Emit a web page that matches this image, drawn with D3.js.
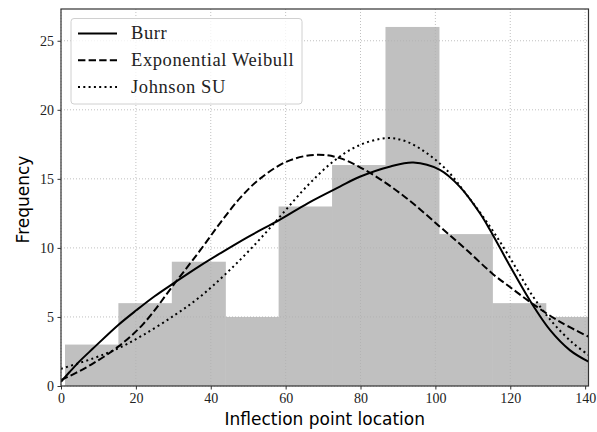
<!DOCTYPE html>
<html><head><meta charset="utf-8">
<script src="https://cdn.jsdelivr.net/npm/d3@7"></script>
<style>body{margin:0;background:#fff}svg{display:block}</style>
</head><body><svg id="c" width="597" height="432"></svg>
<script>
// Histogram
const binEdges = [1.07, 15.33, 29.6, 43.87, 58.13, 72.4, 86.67, 100.93, 115.2, 129.47, 143.73];
const binCounts = [3, 6, 9, 5, 13, 16, 26, 11, 6, 5];
// Fitted curves
const burrX = [0, 1, 2.4, 5, 8.6, 15.3, 20.2, 25, 30.4, 37.1, 42.5, 50, 58.5, 66, 74.5, 79.8, 88, 94.1, 101.2, 106.5, 111.9, 114.6, 120, 125.7, 130.6, 135.9, 140.9];
const burrY = [0.3, 0.62, 1.04, 1.8, 2.73, 4.42, 5.5, 6.5, 7.5, 8.7, 9.6, 10.8, 12.05, 13.25, 14.44, 15.15, 15.9, 16.18, 15.65, 14.44, 12.51, 11.3, 8.65, 5.99, 4.06, 2.6, 1.76];
const ewX = [0, 4, 8.6, 15.3, 22, 30.4, 37.1, 42.5, 47.8, 53.1, 60.3, 67.8, 74.5, 83.4, 92.3, 101.2, 108.3, 115.4, 120, 125.7, 133.2, 140.9];
const ewY = [0.43, 0.95, 1.64, 2.85, 4.5, 7.44, 9.8, 11.8, 13.6, 15.0, 16.25, 16.74, 16.5, 15.29, 13.6, 11.54, 9.86, 8.1, 7.15, 6.0, 4.66, 3.57];
const jsuX = [0, 8.6, 15.3, 22, 30.4, 37.1, 44.2, 51.3, 58.5, 65.6, 72.7, 79.4, 87, 92.3, 97.7, 103, 108.5, 114.6, 120, 126.1, 131.5, 136.8, 140.9];
const jsuY = [1.25, 2.0, 2.73, 3.7, 5.14, 6.45, 8.17, 10.1, 12.27, 14.44, 16.25, 17.4, 17.95, 17.7, 16.86, 15.65, 13.8, 11.54, 9.25, 6.47, 4.54, 3.09, 2.25];
const xTicks = [0, 20, 40, 60, 80, 100, 120, 140];
const yTicks = [0, 5, 10, 15, 20, 25];
const seriesNames = ["Burr", "Exponential Weibull", "Johnson SU"];

const L = 61, R = 588.5, T = 9, B = 386;
const svg = d3.select("#c");
const x = d3.scaleLinear().domain([0, 140.9]).range([L, R]);
const y = d3.scaleLinear().domain([0, 27.3]).range([B, T]);

svg.append("defs").append("clipPath").attr("id", "clip")
  .append("rect").attr("x", L).attr("y", T).attr("width", R - L).attr("height", B - T);

// bars
const bars = binCounts.map((c, i) => ({x0: binEdges[i], x1: binEdges[i + 1], c}));
svg.append("g").attr("clip-path", "url(#clip)").selectAll("rect").data(bars).enter().append("rect")
  .attr("x", d => x(d.x0)).attr("width", d => x(d.x1) - x(d.x0) + 0.6)
  .attr("y", d => y(d.c)).attr("height", d => y(0) - y(d.c))
  .attr("fill", "#c0c0c0");

// grid (above bars, below lines)
const grid = svg.append("g");
grid.selectAll(".gx").data(xTicks).enter().append("line")
  .attr("x1", d => x(d)).attr("x2", d => x(d)).attr("y1", T).attr("y2", B)
  .attr("stroke", "#b0b0b0").attr("stroke-width", 0.8).attr("stroke-dasharray", "1,2");
grid.selectAll(".gy").data(yTicks).enter().append("line")
  .attr("y1", d => y(d)).attr("y2", d => y(d)).attr("x1", L).attr("x2", R)
  .attr("stroke", "#b0b0b0").attr("stroke-width", 0.8).attr("stroke-dasharray", "1,2");

// curves
const line = d3.line().x(d => x(d[0])).y(d => y(d[1])).curve(d3.curveCatmullRom.alpha(0.5));
const series = [
  {name: seriesNames[0], xs: burrX, ys: burrY, dash: null},
  {name: seriesNames[1], xs: ewX, ys: ewY, dash: "7.4,3.2"},
  {name: seriesNames[2], xs: jsuX, ys: jsuY, dash: "2,3.3"}
];
const cg = svg.append("g").attr("clip-path", "url(#clip)");
series.forEach(s => {
  cg.append("path").datum(s.xs.map((v, i) => [v, s.ys[i]]))
    .attr("d", line).attr("fill", "none").attr("stroke", "#000").attr("stroke-width", 2)
    .attr("stroke-dasharray", s.dash);
});

// axes
const xa = svg.append("g").attr("transform", `translate(0,${B})`)
  .call(d3.axisBottom(x).tickValues(xTicks).tickSize(3.5).tickPadding(3.5).tickFormat(d3.format("d")));
const ya = svg.append("g").attr("transform", `translate(${L},0)`)
  .call(d3.axisLeft(y).tickValues(yTicks).tickSize(3.5).tickPadding(3.5).tickFormat(d3.format("d")));
[xa, ya].forEach(a => {
  a.select(".domain").remove();
  a.selectAll("line").attr("stroke", "#333").attr("stroke-width", 1);
  a.selectAll("text").attr("font-family", "'Liberation Serif', 'DejaVu Serif', serif")
    .attr("font-size", 14).attr("fill", "#222");
});
// frame
svg.append("rect").attr("x", L).attr("y", T).attr("width", R - L).attr("height", B - T)
  .attr("fill", "none").attr("stroke", "#333").attr("stroke-width", 1.2);

// axis labels
svg.append("text").attr("x", (L + R) / 2).attr("y", 425).attr("text-anchor", "middle")
  .attr("font-family", "'DejaVu Sans', sans-serif").attr("font-size", 17).attr("fill", "#000")
  .text("Inflection point location");
svg.append("text").attr("transform", `translate(29,${(T + B) / 2 + 2}) rotate(-90)`).attr("text-anchor", "middle")
  .attr("font-family", "'DejaVu Sans', sans-serif").attr("font-size", 17).attr("fill", "#000")
  .text("Frequency");

// legend
const lg = svg.append("g");
lg.append("rect").attr("x", 71).attr("y", 18.5).attr("width", 231).attr("height", 85.5).attr("rx", 3)
  .attr("fill", "#fff").attr("fill-opacity", 0.8).attr("stroke", "#d0d0d0").attr("stroke-width", 1);
series.forEach((s, i) => {
  const yy = 33.5 + i * 26.8;
  lg.append("line").attr("x1", 78).attr("x2", 117).attr("y1", yy).attr("y2", yy)
    .attr("stroke", "#000").attr("stroke-width", 2).attr("stroke-dasharray", s.dash);
  lg.append("text").attr("x", 131).attr("y", yy + 5.8)
    .attr("font-family", "'Liberation Serif', 'DejaVu Serif', serif").attr("font-size", 18.5)
    .attr("letter-spacing", 0.6).attr("fill", "#222").text(s.name);
});
</script></body></html>
